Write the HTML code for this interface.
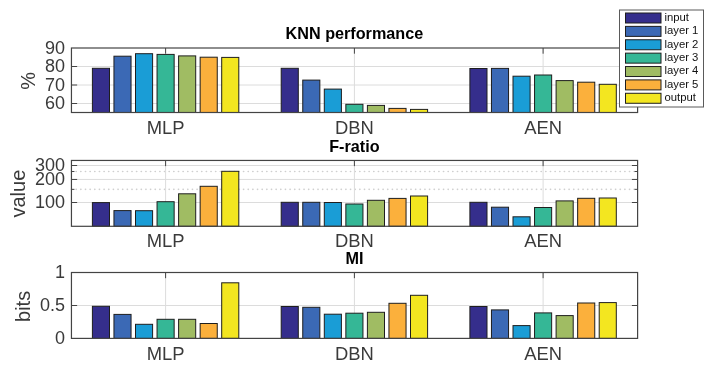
<!DOCTYPE html>
<html><head><meta charset="utf-8"><style>
html,body{margin:0;padding:0;background:#fff;overflow:hidden;}
svg{display:block;font-family:"Liberation Sans",sans-serif;filter:blur(0.35px);}
</style></head><body>
<svg width="714" height="370" viewBox="0 0 714 370">
<rect width="714" height="370" fill="#fff"/>
<line x1="71.45" x2="637.6" y1="66.5" y2="66.5" stroke="#dcdcdc" stroke-width="1"/>
<line x1="71.45" x2="637.6" y1="85.0" y2="85.0" stroke="#dcdcdc" stroke-width="1"/>
<line x1="71.45" x2="637.6" y1="103.5" y2="103.5" stroke="#dcdcdc" stroke-width="1"/>
<line x1="165.6" x2="165.6" y1="48.0" y2="112.5" stroke="#dcdcdc" stroke-width="1"/>
<line x1="354.4" x2="354.4" y1="48.0" y2="112.5" stroke="#dcdcdc" stroke-width="1"/>
<line x1="543.1" x2="543.1" y1="48.0" y2="112.5" stroke="#dcdcdc" stroke-width="1"/>
<rect x="92.40" y="68.3" width="17.1" height="44.20" fill="#352e8c" stroke="#1e1e1e" stroke-width="1"/>
<rect x="113.95" y="56.2" width="17.1" height="56.30" fill="#3b69b5" stroke="#1e1e1e" stroke-width="1"/>
<rect x="135.50" y="53.7" width="17.1" height="58.80" fill="#1a9dd6" stroke="#1e1e1e" stroke-width="1"/>
<rect x="157.05" y="54.4" width="17.1" height="58.10" fill="#35b796" stroke="#1e1e1e" stroke-width="1"/>
<rect x="178.60" y="55.9" width="17.1" height="56.60" fill="#a0bc63" stroke="#1e1e1e" stroke-width="1"/>
<rect x="200.15" y="57.2" width="17.1" height="55.30" fill="#fbb03c" stroke="#1e1e1e" stroke-width="1"/>
<rect x="221.70" y="57.4" width="17.1" height="55.10" fill="#f3e620" stroke="#1e1e1e" stroke-width="1"/>
<rect x="281.20" y="68.3" width="17.1" height="44.20" fill="#352e8c" stroke="#1e1e1e" stroke-width="1"/>
<rect x="302.75" y="80.1" width="17.1" height="32.40" fill="#3b69b5" stroke="#1e1e1e" stroke-width="1"/>
<rect x="324.30" y="89.1" width="17.1" height="23.40" fill="#1a9dd6" stroke="#1e1e1e" stroke-width="1"/>
<rect x="345.85" y="104.3" width="17.1" height="8.20" fill="#35b796" stroke="#1e1e1e" stroke-width="1"/>
<rect x="367.40" y="105.4" width="17.1" height="7.10" fill="#a0bc63" stroke="#1e1e1e" stroke-width="1"/>
<rect x="388.95" y="108.4" width="17.1" height="4.10" fill="#fbb03c" stroke="#1e1e1e" stroke-width="1"/>
<rect x="410.50" y="109.4" width="17.1" height="3.10" fill="#f3e620" stroke="#1e1e1e" stroke-width="1"/>
<rect x="469.90" y="68.5" width="17.1" height="44.00" fill="#352e8c" stroke="#1e1e1e" stroke-width="1"/>
<rect x="491.45" y="68.4" width="17.1" height="44.10" fill="#3b69b5" stroke="#1e1e1e" stroke-width="1"/>
<rect x="513.00" y="76.2" width="17.1" height="36.30" fill="#1a9dd6" stroke="#1e1e1e" stroke-width="1"/>
<rect x="534.55" y="75.0" width="17.1" height="37.50" fill="#35b796" stroke="#1e1e1e" stroke-width="1"/>
<rect x="556.10" y="80.6" width="17.1" height="31.90" fill="#a0bc63" stroke="#1e1e1e" stroke-width="1"/>
<rect x="577.65" y="82.2" width="17.1" height="30.30" fill="#fbb03c" stroke="#1e1e1e" stroke-width="1"/>
<rect x="599.20" y="84.3" width="17.1" height="28.20" fill="#f3e620" stroke="#1e1e1e" stroke-width="1"/>
<line x1="71.45" x2="77.15" y1="66.5" y2="66.5" stroke="#444444" stroke-width="1"/>
<line x1="637.6" x2="631.9" y1="66.5" y2="66.5" stroke="#444444" stroke-width="1"/>
<line x1="71.45" x2="77.15" y1="85.0" y2="85.0" stroke="#444444" stroke-width="1"/>
<line x1="637.6" x2="631.9" y1="85.0" y2="85.0" stroke="#444444" stroke-width="1"/>
<line x1="71.45" x2="77.15" y1="103.5" y2="103.5" stroke="#444444" stroke-width="1"/>
<line x1="637.6" x2="631.9" y1="103.5" y2="103.5" stroke="#444444" stroke-width="1"/>
<line x1="165.6" x2="165.6" y1="48.0" y2="53.7" stroke="#444444" stroke-width="1"/>
<line x1="354.4" x2="354.4" y1="48.0" y2="53.7" stroke="#444444" stroke-width="1"/>
<line x1="543.1" x2="543.1" y1="48.0" y2="53.7" stroke="#444444" stroke-width="1"/>
<rect x="71.45" y="48.0" width="566.15" height="64.50" fill="none" stroke="#444444" stroke-width="1.2"/>
<text x="65" y="53.5" text-anchor="end" font-size="18" fill="#3a3a3a">90</text>
<text x="65" y="72.0" text-anchor="end" font-size="18" fill="#3a3a3a">80</text>
<text x="65" y="90.5" text-anchor="end" font-size="18" fill="#3a3a3a">70</text>
<text x="65" y="109.0" text-anchor="end" font-size="18" fill="#3a3a3a">60</text>
<text x="165.6" y="133.8" text-anchor="middle" font-size="18.4" fill="#3a3a3a">MLP</text>
<text x="354.4" y="133.8" text-anchor="middle" font-size="18.4" fill="#3a3a3a">DBN</text>
<text x="543.1" y="133.8" text-anchor="middle" font-size="18.4" fill="#3a3a3a">AEN</text>
<text x="354.4" y="39.4" text-anchor="middle" font-size="16.2" font-weight="bold" fill="#000">KNN performance</text>
<text transform="translate(35.2,80.8) rotate(-90)" x="0" y="0" text-anchor="middle" font-size="20" fill="#3a3a3a">%</text>
<line x1="71.45" x2="637.6" y1="165.5" y2="165.5" stroke="#dcdcdc" stroke-width="1"/>
<line x1="71.45" x2="637.6" y1="179.45" y2="179.45" stroke="#dcdcdc" stroke-width="1"/>
<line x1="71.45" x2="637.6" y1="202.5" y2="202.5" stroke="#dcdcdc" stroke-width="1"/>
<line x1="71.45" x2="637.6" y1="171.5" y2="171.5" stroke="#cfcfcf" stroke-width="1.6" stroke-linecap="round" stroke-dasharray="0.2 4.45"/>
<line x1="71.45" x2="637.6" y1="189.35" y2="189.35" stroke="#cfcfcf" stroke-width="1.6" stroke-linecap="round" stroke-dasharray="0.2 4.45"/>
<line x1="165.6" x2="165.6" y1="160.45" y2="226.3" stroke="#dcdcdc" stroke-width="1"/>
<line x1="354.4" x2="354.4" y1="160.45" y2="226.3" stroke="#dcdcdc" stroke-width="1"/>
<line x1="543.1" x2="543.1" y1="160.45" y2="226.3" stroke="#dcdcdc" stroke-width="1"/>
<rect x="92.40" y="202.6" width="17.1" height="23.70" fill="#352e8c" stroke="#1e1e1e" stroke-width="1"/>
<rect x="113.95" y="210.6" width="17.1" height="15.70" fill="#3b69b5" stroke="#1e1e1e" stroke-width="1"/>
<rect x="135.50" y="210.7" width="17.1" height="15.60" fill="#1a9dd6" stroke="#1e1e1e" stroke-width="1"/>
<rect x="157.05" y="201.7" width="17.1" height="24.60" fill="#35b796" stroke="#1e1e1e" stroke-width="1"/>
<rect x="178.60" y="193.8" width="17.1" height="32.50" fill="#a0bc63" stroke="#1e1e1e" stroke-width="1"/>
<rect x="200.15" y="186.3" width="17.1" height="40.00" fill="#fbb03c" stroke="#1e1e1e" stroke-width="1"/>
<rect x="221.70" y="171.3" width="17.1" height="55.00" fill="#f3e620" stroke="#1e1e1e" stroke-width="1"/>
<rect x="281.20" y="202.3" width="17.1" height="24.00" fill="#352e8c" stroke="#1e1e1e" stroke-width="1"/>
<rect x="302.75" y="202.3" width="17.1" height="24.00" fill="#3b69b5" stroke="#1e1e1e" stroke-width="1"/>
<rect x="324.30" y="202.5" width="17.1" height="23.80" fill="#1a9dd6" stroke="#1e1e1e" stroke-width="1"/>
<rect x="345.85" y="204.0" width="17.1" height="22.30" fill="#35b796" stroke="#1e1e1e" stroke-width="1"/>
<rect x="367.40" y="200.3" width="17.1" height="26.00" fill="#a0bc63" stroke="#1e1e1e" stroke-width="1"/>
<rect x="388.95" y="198.4" width="17.1" height="27.90" fill="#fbb03c" stroke="#1e1e1e" stroke-width="1"/>
<rect x="410.50" y="196.0" width="17.1" height="30.30" fill="#f3e620" stroke="#1e1e1e" stroke-width="1"/>
<rect x="469.90" y="202.3" width="17.1" height="24.00" fill="#352e8c" stroke="#1e1e1e" stroke-width="1"/>
<rect x="491.45" y="207.2" width="17.1" height="19.10" fill="#3b69b5" stroke="#1e1e1e" stroke-width="1"/>
<rect x="513.00" y="216.8" width="17.1" height="9.50" fill="#1a9dd6" stroke="#1e1e1e" stroke-width="1"/>
<rect x="534.55" y="207.5" width="17.1" height="18.80" fill="#35b796" stroke="#1e1e1e" stroke-width="1"/>
<rect x="556.10" y="200.9" width="17.1" height="25.40" fill="#a0bc63" stroke="#1e1e1e" stroke-width="1"/>
<rect x="577.65" y="198.3" width="17.1" height="28.00" fill="#fbb03c" stroke="#1e1e1e" stroke-width="1"/>
<rect x="599.20" y="198.0" width="17.1" height="28.30" fill="#f3e620" stroke="#1e1e1e" stroke-width="1"/>
<line x1="71.45" x2="77.15" y1="165.5" y2="165.5" stroke="#444444" stroke-width="1"/>
<line x1="637.6" x2="631.9" y1="165.5" y2="165.5" stroke="#444444" stroke-width="1"/>
<line x1="71.45" x2="77.15" y1="179.45" y2="179.45" stroke="#444444" stroke-width="1"/>
<line x1="637.6" x2="631.9" y1="179.45" y2="179.45" stroke="#444444" stroke-width="1"/>
<line x1="71.45" x2="77.15" y1="202.5" y2="202.5" stroke="#444444" stroke-width="1"/>
<line x1="637.6" x2="631.9" y1="202.5" y2="202.5" stroke="#444444" stroke-width="1"/>
<line x1="71.45" x2="74.45" y1="171.5" y2="171.5" stroke="#444444" stroke-width="1"/>
<line x1="637.6" x2="634.6" y1="171.5" y2="171.5" stroke="#444444" stroke-width="1"/>
<line x1="71.45" x2="74.45" y1="189.35" y2="189.35" stroke="#444444" stroke-width="1"/>
<line x1="637.6" x2="634.6" y1="189.35" y2="189.35" stroke="#444444" stroke-width="1"/>
<line x1="165.6" x2="165.6" y1="160.45" y2="166.14999999999998" stroke="#444444" stroke-width="1"/>
<line x1="354.4" x2="354.4" y1="160.45" y2="166.14999999999998" stroke="#444444" stroke-width="1"/>
<line x1="543.1" x2="543.1" y1="160.45" y2="166.14999999999998" stroke="#444444" stroke-width="1"/>
<rect x="71.45" y="160.45" width="566.15" height="65.85" fill="none" stroke="#444444" stroke-width="1.2"/>
<text x="65" y="171.0" text-anchor="end" font-size="18" fill="#3a3a3a">300</text>
<text x="65" y="184.9" text-anchor="end" font-size="18" fill="#3a3a3a">200</text>
<text x="65" y="208.0" text-anchor="end" font-size="18" fill="#3a3a3a">100</text>
<text x="165.6" y="247.3" text-anchor="middle" font-size="18.4" fill="#3a3a3a">MLP</text>
<text x="354.4" y="247.3" text-anchor="middle" font-size="18.4" fill="#3a3a3a">DBN</text>
<text x="543.1" y="247.3" text-anchor="middle" font-size="18.4" fill="#3a3a3a">AEN</text>
<text x="354.4" y="151.6" text-anchor="middle" font-size="16.2" font-weight="bold" fill="#000">F-ratio</text>
<text transform="translate(25.3,193.6) rotate(-90)" x="0" y="0" text-anchor="middle" font-size="20" fill="#3a3a3a">value</text>
<line x1="71.45" x2="637.6" y1="305.5" y2="305.5" stroke="#dcdcdc" stroke-width="1"/>
<line x1="165.6" x2="165.6" y1="272.5" y2="338.4" stroke="#dcdcdc" stroke-width="1"/>
<line x1="354.4" x2="354.4" y1="272.5" y2="338.4" stroke="#dcdcdc" stroke-width="1"/>
<line x1="543.1" x2="543.1" y1="272.5" y2="338.4" stroke="#dcdcdc" stroke-width="1"/>
<rect x="92.40" y="306.3" width="17.1" height="32.10" fill="#352e8c" stroke="#1e1e1e" stroke-width="1"/>
<rect x="113.95" y="314.4" width="17.1" height="24.00" fill="#3b69b5" stroke="#1e1e1e" stroke-width="1"/>
<rect x="135.50" y="324.3" width="17.1" height="14.10" fill="#1a9dd6" stroke="#1e1e1e" stroke-width="1"/>
<rect x="157.05" y="319.3" width="17.1" height="19.10" fill="#35b796" stroke="#1e1e1e" stroke-width="1"/>
<rect x="178.60" y="319.3" width="17.1" height="19.10" fill="#a0bc63" stroke="#1e1e1e" stroke-width="1"/>
<rect x="200.15" y="323.5" width="17.1" height="14.90" fill="#fbb03c" stroke="#1e1e1e" stroke-width="1"/>
<rect x="221.70" y="282.8" width="17.1" height="55.60" fill="#f3e620" stroke="#1e1e1e" stroke-width="1"/>
<rect x="281.20" y="306.5" width="17.1" height="31.90" fill="#352e8c" stroke="#1e1e1e" stroke-width="1"/>
<rect x="302.75" y="307.3" width="17.1" height="31.10" fill="#3b69b5" stroke="#1e1e1e" stroke-width="1"/>
<rect x="324.30" y="314.2" width="17.1" height="24.20" fill="#1a9dd6" stroke="#1e1e1e" stroke-width="1"/>
<rect x="345.85" y="313.2" width="17.1" height="25.20" fill="#35b796" stroke="#1e1e1e" stroke-width="1"/>
<rect x="367.40" y="312.3" width="17.1" height="26.10" fill="#a0bc63" stroke="#1e1e1e" stroke-width="1"/>
<rect x="388.95" y="303.3" width="17.1" height="35.10" fill="#fbb03c" stroke="#1e1e1e" stroke-width="1"/>
<rect x="410.50" y="295.3" width="17.1" height="43.10" fill="#f3e620" stroke="#1e1e1e" stroke-width="1"/>
<rect x="469.90" y="306.5" width="17.1" height="31.90" fill="#352e8c" stroke="#1e1e1e" stroke-width="1"/>
<rect x="491.45" y="309.9" width="17.1" height="28.50" fill="#3b69b5" stroke="#1e1e1e" stroke-width="1"/>
<rect x="513.00" y="325.6" width="17.1" height="12.80" fill="#1a9dd6" stroke="#1e1e1e" stroke-width="1"/>
<rect x="534.55" y="312.9" width="17.1" height="25.50" fill="#35b796" stroke="#1e1e1e" stroke-width="1"/>
<rect x="556.10" y="315.6" width="17.1" height="22.80" fill="#a0bc63" stroke="#1e1e1e" stroke-width="1"/>
<rect x="577.65" y="303.0" width="17.1" height="35.40" fill="#fbb03c" stroke="#1e1e1e" stroke-width="1"/>
<rect x="599.20" y="302.6" width="17.1" height="35.80" fill="#f3e620" stroke="#1e1e1e" stroke-width="1"/>
<line x1="71.45" x2="77.15" y1="305.5" y2="305.5" stroke="#444444" stroke-width="1"/>
<line x1="637.6" x2="631.9" y1="305.5" y2="305.5" stroke="#444444" stroke-width="1"/>
<line x1="165.6" x2="165.6" y1="272.5" y2="278.2" stroke="#444444" stroke-width="1"/>
<line x1="354.4" x2="354.4" y1="272.5" y2="278.2" stroke="#444444" stroke-width="1"/>
<line x1="543.1" x2="543.1" y1="272.5" y2="278.2" stroke="#444444" stroke-width="1"/>
<rect x="71.45" y="272.5" width="566.15" height="65.90" fill="none" stroke="#444444" stroke-width="1.2"/>
<text x="65" y="278.0" text-anchor="end" font-size="18" fill="#3a3a3a">1</text>
<text x="65" y="311.0" text-anchor="end" font-size="18" fill="#3a3a3a">0.5</text>
<text x="65" y="343.9" text-anchor="end" font-size="18" fill="#3a3a3a">0</text>
<text x="165.6" y="359.8" text-anchor="middle" font-size="18.4" fill="#3a3a3a">MLP</text>
<text x="354.4" y="359.8" text-anchor="middle" font-size="18.4" fill="#3a3a3a">DBN</text>
<text x="543.1" y="359.8" text-anchor="middle" font-size="18.4" fill="#3a3a3a">AEN</text>
<text x="354.4" y="263.5" text-anchor="middle" font-size="16.2" font-weight="bold" fill="#000">MI</text>
<text transform="translate(29.7,306.4) rotate(-90)" x="0" y="0" text-anchor="middle" font-size="20" fill="#3a3a3a">bits</text>
<rect x="619.5" y="10" width="84" height="97" fill="#fff" stroke="#5a5a5a" stroke-width="1"/>
<rect x="625.5" y="13.00" width="35.5" height="10" fill="#352e8c" stroke="#1e1e1e" stroke-width="1"/>
<text x="664.5" y="21.00" font-size="11.3" fill="#111">input</text>
<rect x="625.5" y="26.38" width="35.5" height="10" fill="#3b69b5" stroke="#1e1e1e" stroke-width="1"/>
<text x="664.5" y="34.35" font-size="11.3" fill="#111">layer 1</text>
<rect x="625.5" y="39.76" width="35.5" height="10" fill="#1a9dd6" stroke="#1e1e1e" stroke-width="1"/>
<text x="664.5" y="47.70" font-size="11.3" fill="#111">layer 2</text>
<rect x="625.5" y="53.14" width="35.5" height="10" fill="#35b796" stroke="#1e1e1e" stroke-width="1"/>
<text x="664.5" y="61.05" font-size="11.3" fill="#111">layer 3</text>
<rect x="625.5" y="66.52" width="35.5" height="10" fill="#a0bc63" stroke="#1e1e1e" stroke-width="1"/>
<text x="664.5" y="74.40" font-size="11.3" fill="#111">layer 4</text>
<rect x="625.5" y="79.90" width="35.5" height="10" fill="#fbb03c" stroke="#1e1e1e" stroke-width="1"/>
<text x="664.5" y="87.75" font-size="11.3" fill="#111">layer 5</text>
<rect x="625.5" y="93.28" width="35.5" height="10" fill="#f3e620" stroke="#1e1e1e" stroke-width="1"/>
<text x="664.5" y="101.10" font-size="11.3" fill="#111">output</text>
</svg>
</body></html>
